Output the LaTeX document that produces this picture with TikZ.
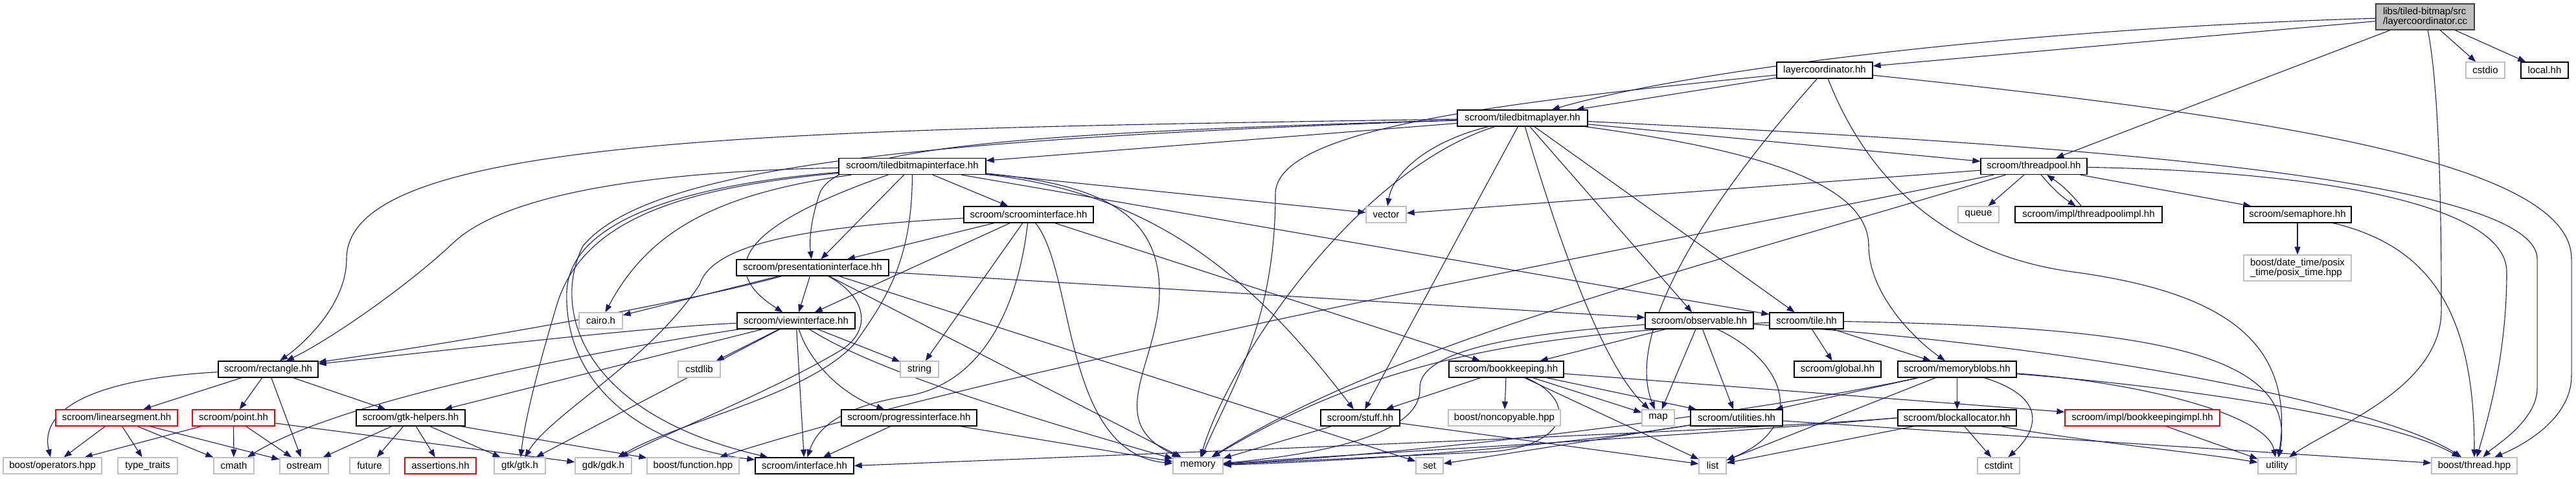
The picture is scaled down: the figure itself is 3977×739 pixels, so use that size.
\documentclass[tikz,border=0pt]{standalone}
\usepackage{fontspec}
\setmainfont{Liberation Sans}
\usetikzlibrary{arrows.meta}
\pgfdeclarelayer{bg}
\pgfsetlayers{bg,main}
\definecolor{edgeblue}{RGB}{25,25,112}
\definecolor{extgray}{RGB}{191,191,191}
\definecolor{rootgray}{RGB}{191,191,191}
\tikzset{
  box/.style={draw=black, line width=1.3pt, fill=white, minimum height=25pt, inner sep=0pt, font=\fontsize{15}{15.5}\selectfont},
  extbox/.style={box, draw=extgray},
  redbox/.style={box, draw=red},
  rootbox/.style={box, fill=rootgray, draw=black!75, minimum height=40pt, align=left},
  dep/.style={draw=edgeblue, line width=1.1pt, -{Triangle[length=12pt,width=9pt]}},
}
\begin{document}
\begin{tikzpicture}[x=1pt,y=-1pt]
\useasboundingbox (0,0) rectangle (3977,739);
% nodes
\node[rootbox, minimum width=152pt] (rt) at (3744,26) {libs/tiled-bitmap/src\\/layercoordinator.cc};
\node[extbox, minimum width=60pt] (cstdio) at (3837,108.5) {cstdio};
\node[box, minimum width=73pt] (local) at (3928.5,108.5) {local.hh};
\node[box, minimum width=148pt] (lc) at (2817,108.5) {layercoordinator.hh};
\node[box, minimum width=201pt] (tbl) at (2350.5,182.5) {scroom/tiledbitmaplayer.hh};
\node[box, minimum width=164pt] (tp) at (3140,257) {scroom/threadpool.hh};
\node[box, minimum width=227pt] (tbi) at (1408.5,257) {scroom/tiledbitmapinterface.hh};
\node[extbox, minimum width=62pt] (vector) at (2140,331.5) {vector};
\node[box, minimum width=200pt] (si) at (1588,331.5) {scroom/scroominterface.hh};
\node[extbox, minimum width=63pt] (queue) at (3054.5,331.5) {queue};
\node[box, minimum width=227pt] (tpimpl) at (3224.5,331.5) {scroom/impl/threadpoolimpl.hh};
\node[box, minimum width=166pt] (sem) at (3547,331.5) {scroom/semaphore.hh};
\node[box, minimum width=235pt] (pi) at (1254.5,413.5) {scroom/presentationinterface.hh};
\node[extbox, minimum width=166pt, minimum height=40pt, align=left] (posix) at (3547,414) {boost/date\_time/posix\\\_time/posix\_time.hpp};
\node[extbox, minimum width=67pt] (cairo) at (927.5,495.5) {cairo.h};
\node[box, minimum width=182pt] (vi) at (1229,495.5) {scroom/viewinterface.hh};
\node[box, minimum width=167pt] (obs) at (2623.5,495.5) {scroom/observable.hh};
\node[box, minimum width=114pt] (tile) at (2789,495.5) {scroom/tile.hh};
\node[box, minimum width=154pt] (rect) at (414,570.5) {scroom/rectangle.hh};
\node[extbox, minimum width=65pt] (cstdlib) at (1079.5,570.5) {cstdlib};
\node[extbox, minimum width=59pt] (string) at (1419.5,570.5) {string};
\node[box, minimum width=177pt] (bk) at (2325.5,570.5) {scroom/bookkeeping.hh};
\node[box, minimum width=134pt] (global) at (2837,570.5) {scroom/global.hh};
\node[box, minimum width=183pt] (mb) at (3021.5,570.5) {scroom/memoryblobs.hh};
\node[redbox, minimum width=188pt] (linseg) at (180,645.5) {scroom/linearsegment.hh};
\node[redbox, minimum width=127pt] (point) at (360.5,645.5) {scroom/point.hh};
\node[box, minimum width=168pt] (gtkh) at (634,645.5) {scroom/gtk-helpers.hh};
\node[box, minimum width=209pt] (prog) at (1403.5,645.5) {scroom/progressinterface.hh};
\node[box, minimum width=122pt] (stuff) at (2100,645.5) {scroom/stuff.hh};
\node[extbox, minimum width=173pt] (noncopy) at (2322.5,645.5) {boost/noncopyable.hpp};
\node[extbox, minimum width=50pt] (map) at (2560,645.5) {map};
\node[box, minimum width=142pt] (util) at (2681,645.5) {scroom/utilities.hh};
\node[box, minimum width=183pt] (ba) at (3021.5,645.5) {scroom/blockallocator.hh};
\node[redbox, minimum width=239pt] (bkimpl) at (3307.5,645.5) {scroom/impl/bookkeepingimpl.hh};
\node[extbox, minimum width=152pt] (ops) at (81,719.5) {boost/operators.hpp};
\node[extbox, minimum width=92pt] (tt) at (228,719.5) {type\_traits};
\node[extbox, minimum width=62pt] (cmath) at (361,719.5) {cmath};
\node[extbox, minimum width=75pt] (ostream) at (469.5,719.5) {ostream};
\node[extbox, minimum width=61pt] (future) at (570.5,719.5) {future};
\node[redbox, minimum width=110pt] (assert) at (680,719.5) {assertions.hh};
\node[extbox, minimum width=79pt] (gtk) at (802.5,719.5) {gtk/gtk.h};
\node[extbox, minimum width=87pt] (gdk) at (931.5,719.5) {gdk/gdk.h};
\node[extbox, minimum width=142pt] (func) at (1070,719.5) {boost/function.hpp};
\node[box, minimum width=152pt] (intf) at (1242,719.5) {scroom/interface.hh};
\node[extbox, minimum width=77pt] (memory) at (1849.5,719.5) {memory};
\node[extbox, minimum width=42pt] (set) at (2207,719.5) {set};
\node[extbox, minimum width=42pt] (list) at (2644,719.5) {list};
\node[extbox, minimum width=65pt] (cstdint) at (3085.5,719.5) {cstdint};
\node[extbox, minimum width=59pt] (utility) at (3515.5,719.5) {utility};
\node[extbox, minimum width=132pt] (bthread) at (3820,719.5) {boost/thread.hpp};
\begin{pgfonlayer}{bg}
% root
\draw[dep] (rt) -- (lc);
\draw[dep] (rt) .. controls (3100,45) and (2600,110) .. (tbl);
\draw[dep] (rt) -- (tp);
\draw[dep] (rt) -- (cstdio);
\draw[dep] (rt) -- (local);
\draw[dep] (rt) .. controls (3769,150) and (3769,400) .. (3769,480) .. controls (3769,600) and (3600,660) .. (utility);
% layercoordinator
\draw[dep] (lc) -- (tbl);
\draw[dep] (lc) .. controls (2300,160) and (1969,200) .. (1969,300) .. controls (1969,500) and (1900,600) .. (memory);
\draw[dep] (lc) .. controls (2620,330) and (2510,520) .. (map);
\draw[dep] (lc) .. controls (2900,320) and (3050,400) .. (3200,420) .. controls (3420,450) and (3545,520) .. (utility);
\draw[dep] (lc) .. controls (3500,180) and (3970,250) .. (3970,400) -- (3970,580) .. controls (3970,650) and (3890,690) .. (bthread);
% tiledbitmaplayer
\draw[dep] (tbl) .. controls (1200,200) and (535,210) .. (535,400) .. controls (535,470) and (470,530) .. (rect);
\draw[dep] (tbl) .. controls (1600,205) and (1290,225) .. (1265,300) .. controls (1252,340) and (1249,370) .. (pi);
\draw[dep] (tbl) -- (tbi);
\draw[dep] (tbl) .. controls (2200,220) and (2150,270) .. (vector);
\draw[dep] (tbl) -- (tp);
\draw[dep] (tbl) .. controls (2100,260) and (1900,550) .. (memory);
\draw[dep] (tbl) -- (stuff);
\draw[dep] (tbl) -- (obs);
\draw[dep] (tbl) -- (tile);
\draw[dep] (tbl) .. controls (2400,350) and (2470,560) .. (map);
\draw[dep] (tbl) .. controls (2700,230) and (2885,280) .. (2885,380) .. controls (2885,450) and (2950,520) .. (mb);
\draw[dep] (tbl) .. controls (3000,215) and (3917,260) .. (3917,400) -- (3917,600) .. controls (3917,650) and (3850,690) .. (bthread);
\draw[dep] (tbl) .. controls (1400,215) and (1000,260) .. (900,380) .. controls (850,480) and (900,640) .. (intf);
% tiledbitmapinterface
\draw[dep] (tbi) .. controls (1000,265) and (780,300) .. (700,375) .. controls (620,450) and (500,530) .. (rect);
\draw[dep] (tbi) -- (vector);
\draw[dep] (tbi) -- (si);
\draw[dep] (tbi) -- (pi);
\draw[dep] (tbi) .. controls (1200,330) and (1080,400) .. (vi);
\draw[dep] (tbi) .. controls (1100,300) and (1000,360) .. (cairo);
\draw[dep] (tbi) .. controls (1050,290) and (900,340) .. (860,470) .. controls (830,570) and (810,650) .. (gtk);
\draw[dep] (tbi) .. controls (1060,285) and (880,340) .. (875,450) .. controls (870,600) and (1000,690) .. (intf);
\draw[dep] (tbi) .. controls (1700,285) and (1790,330) .. (1790,450) .. controls (1790,560) and (1700,650) .. (memory);
\draw[dep] (tbi) .. controls (1800,300) and (1950,450) .. (stuff);
\draw[dep] (tbi) -- (tile);
\draw[dep] (tbi) .. controls (1408,400) and (1370,460) .. (1320,530) .. controls (1250,610) and (1050,650) .. (gdk);
% scroominterface
\draw[dep] (si) -- (pi);
\draw[dep] (si) -- (vi);
\draw[dep] (si) -- (string);
\draw[dep] (si) -- (bk);
\draw[dep] (si) .. controls (1660,420) and (1640,700) .. (memory);
\draw[dep] (si) .. controls (1575,450) and (1530,590) .. (1400,612) .. controls (1300,628) and (1262,660) .. (intf);
\draw[dep] (si) .. controls (1250,350) and (1100,375) .. (1080,440) .. controls (1000,560) and (850,640) .. (gtk);
% presentationinterface
\draw[dep] (pi) -- (vi);
\draw[dep] (pi) -- (cairo);
\draw[dep] (pi) .. controls (1050,470) and (700,530) .. (rect);
\draw[dep] (pi) -- (obs);
\draw[dep] (pi) -- (set);
\draw[dep] (pi) -- (memory);
\draw[dep] (pi) .. controls (1340,460) and (1345,510) .. (1300,540) .. controls (1200,600) and (1050,660) .. (gdk);
% viewinterface
\draw[dep] (vi) -- (cstdlib);
\draw[dep] (vi) -- (string);
\draw[dep] (vi) .. controls (1250,560) and (1300,610) .. (prog);
\draw[dep] (vi) -- (intf);
\draw[dep] (vi) .. controls (1000,505) and (700,540) .. (rect);
\draw[dep] (vi) .. controls (900,545) and (520,620) .. (cmath);
\draw[dep] (vi) -- (gtkh);
\draw[dep] (vi) -- (gtk);
\draw[dep] (vi) .. controls (1330,560) and (1500,620) .. (memory);
% progressinterface
\draw[dep] (prog) -- (intf);
\draw[dep] (prog) -- (memory);
% gtk-helpers
\draw[dep] (gtkh) -- (ostream);
\draw[dep] (gtkh) -- (future);
\draw[dep] (gtkh) -- (assert);
\draw[dep] (gtkh) -- (gtk);
\draw[dep] (gtkh) -- (func);
% rectangle
\draw[dep] (rect) .. controls (150,585) and (60,630) .. (ops);
\draw[dep] (rect) -- (linseg);
\draw[dep] (rect) -- (point);
\draw[dep] (rect) -- (ostream);
\draw[dep] (rect) -- (gtkh);
% linearsegment, point
\draw[dep] (linseg) -- (ops);
\draw[dep] (linseg) -- (tt);
\draw[dep] (linseg) -- (cmath);
\draw[dep] (linseg) -- (ostream);
\draw[dep] (point) -- (ops);
\draw[dep] (point) -- (cmath);
\draw[dep] (point) -- (ostream);
\draw[dep] (point) -- (gdk);
% threadpool
\draw[dep] (tp) -- (queue);
\draw[dep] (tp) to[bend right=8] (tpimpl);
\draw[dep] (tpimpl) to[bend right=8] (tp);
\draw[dep] (tp) -- (sem);
\draw[dep] (tp) -- (vector);
\draw[dep] (tp) .. controls (2700,350) and (1600,550) .. (func);
\draw[dep] (tp) .. controls (2600,420) and (2150,530) .. (memory);
\draw[dep] (tp) .. controls (3600,265) and (3870,320) .. (3870,420) .. controls (3870,550) and (3840,650) .. (bthread);
\draw[dep] (sem) -- (posix);
\draw[dep] (sem) .. controls (3750,380) and (3820,480) .. (bthread);
% observable
\draw[dep] (obs) .. controls (2350,515) and (2190,540) .. (2192,600) .. controls (2195,680) and (2000,705) .. (memory);
\draw[dep] (obs) -- (bk);
\draw[dep] (obs) -- (map);
\draw[dep] (obs) -- (util);
\draw[dep] (obs) .. controls (2760,560) and (2790,660) .. (list);
\draw[dep] (obs) .. controls (3300,540) and (3700,640) .. (bthread);
% tile
\draw[dep] (tile) -- (global);
\draw[dep] (tile) -- (mb);
\draw[dep] (tile) .. controls (3300,505) and (3550,540) .. (utility);
\draw[dep] (tile) .. controls (2400,515) and (2150,540) .. (memory);
% memoryblobs
\draw[dep] (mb) -- (util);
\draw[dep] (mb) -- (list);
\draw[dep] (mb) -- (ba);
\draw[dep] (mb) .. controls (3180,620) and (3130,680) .. (cstdint);
\draw[dep] (mb) .. controls (2700,640) and (2200,700) .. (memory);
\draw[dep] (mb) .. controls (3300,590) and (3500,640) .. (utility);
\draw[dep] (mb) .. controls (3400,600) and (3700,650) .. (bthread);
% blockallocator
\draw[dep] (ba.west) .. controls (2700,665) and (1800,700) .. (intf.east);
\draw[dep] (ba.west) .. controls (2600,675) and (2100,700) .. (memory);
\draw[dep] (ba) -- (list);
\draw[dep] (ba) -- (cstdint);
\draw[dep] (ba) .. controls (3200,680) and (3400,700) .. (utility);
% bookkeeping
\draw[dep] (bk) -- (stuff);
\draw[dep] (bk) -- (noncopy);
\draw[dep] (bk) -- (map);
\draw[dep] (bk) -- (util);
\draw[dep] (bk) -- (list);
\draw[dep] (bk) .. controls (2440,620) and (2420,690) .. (2300,698) .. controls (2150,705) and (2000,712) .. (memory);
\draw[dep] (bk) -- (bkimpl);
\draw[dep] (bkimpl) -- (utility);
% stuff, utilities
\draw[dep] (stuff) -- (memory);
\draw[dep] (stuff) -- (list);
\draw[dep] (util) .. controls (2400,690) and (2100,712) .. (memory);
\draw[dep] (util) -- (set);
\draw[dep] (util) -- (bthread);
\end{pgfonlayer}
\end{tikzpicture}
\end{document}
